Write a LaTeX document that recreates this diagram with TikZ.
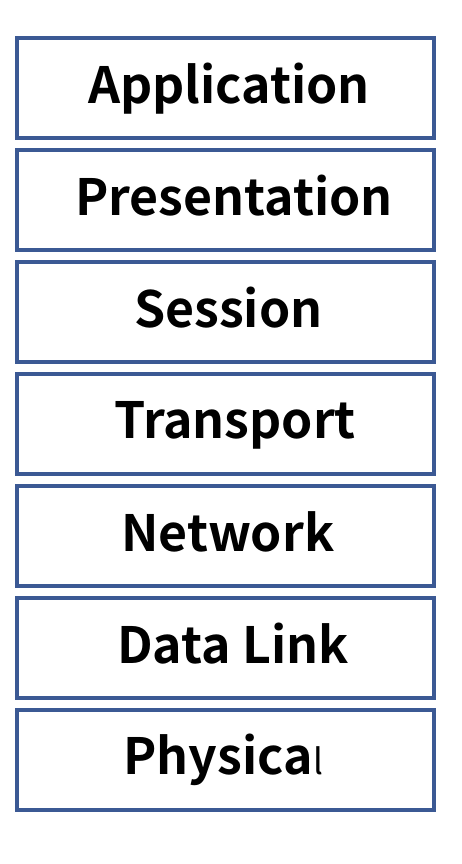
\documentclass[tikz,border=0pt]{standalone}
\usepackage{fontspec}
\newfontfamily\labfont{Noto Sans CJK SC}[BoldFont={Noto Sans CJK SC Bold}]
\definecolor{layerblue}{RGB}{59,89,148}
\tikzset{
  layerbox/.style={draw=layerblue, line width=4pt, minimum width=417pt, minimum height=99.5pt, inner sep=0pt, anchor=north west},
  layertext/.style={font=\labfont\bfseries\fontsize{50}{56}\selectfont, inner sep=0pt, anchor=base west, text=black}
}
\begin{document}
\begin{tikzpicture}[x=1pt,y=1pt]
\useasboundingbox (0,0) rectangle (462,-864);
\node[layerbox] (b1) at (15.3,-36) {};
\node[layerbox] (b2) at (15.3,-148) {};
\node[layerbox] (b3) at (15.3,-260) {};
\node[layerbox] (b4) at (15.3,-372) {};
\node[layerbox] (b5) at (15.3,-484) {};
\node[layerbox] (b6) at (15.3,-596) {};
\node[layerbox] (b7) at (15.3,-708) {};
\node[layertext] (t1) at (88,-103.3) {Application};
\node[layertext] (t2) at (75,-215) {Presentation};
\node[layertext] (t3) at (134,-327) {Session};
\node[layertext] (t4) at (114,-438) {Transport};
\node[layertext] (t5) at (121,-551) {Network};
\node[layertext] (t6) at (117,-663.3) {Data Link};
\node[layertext] (t7) at (123,-774) {Physica\kern1pt{\mdseries\fontsize{35}{38}\selectfont l}};
\end{tikzpicture}
\end{document}
